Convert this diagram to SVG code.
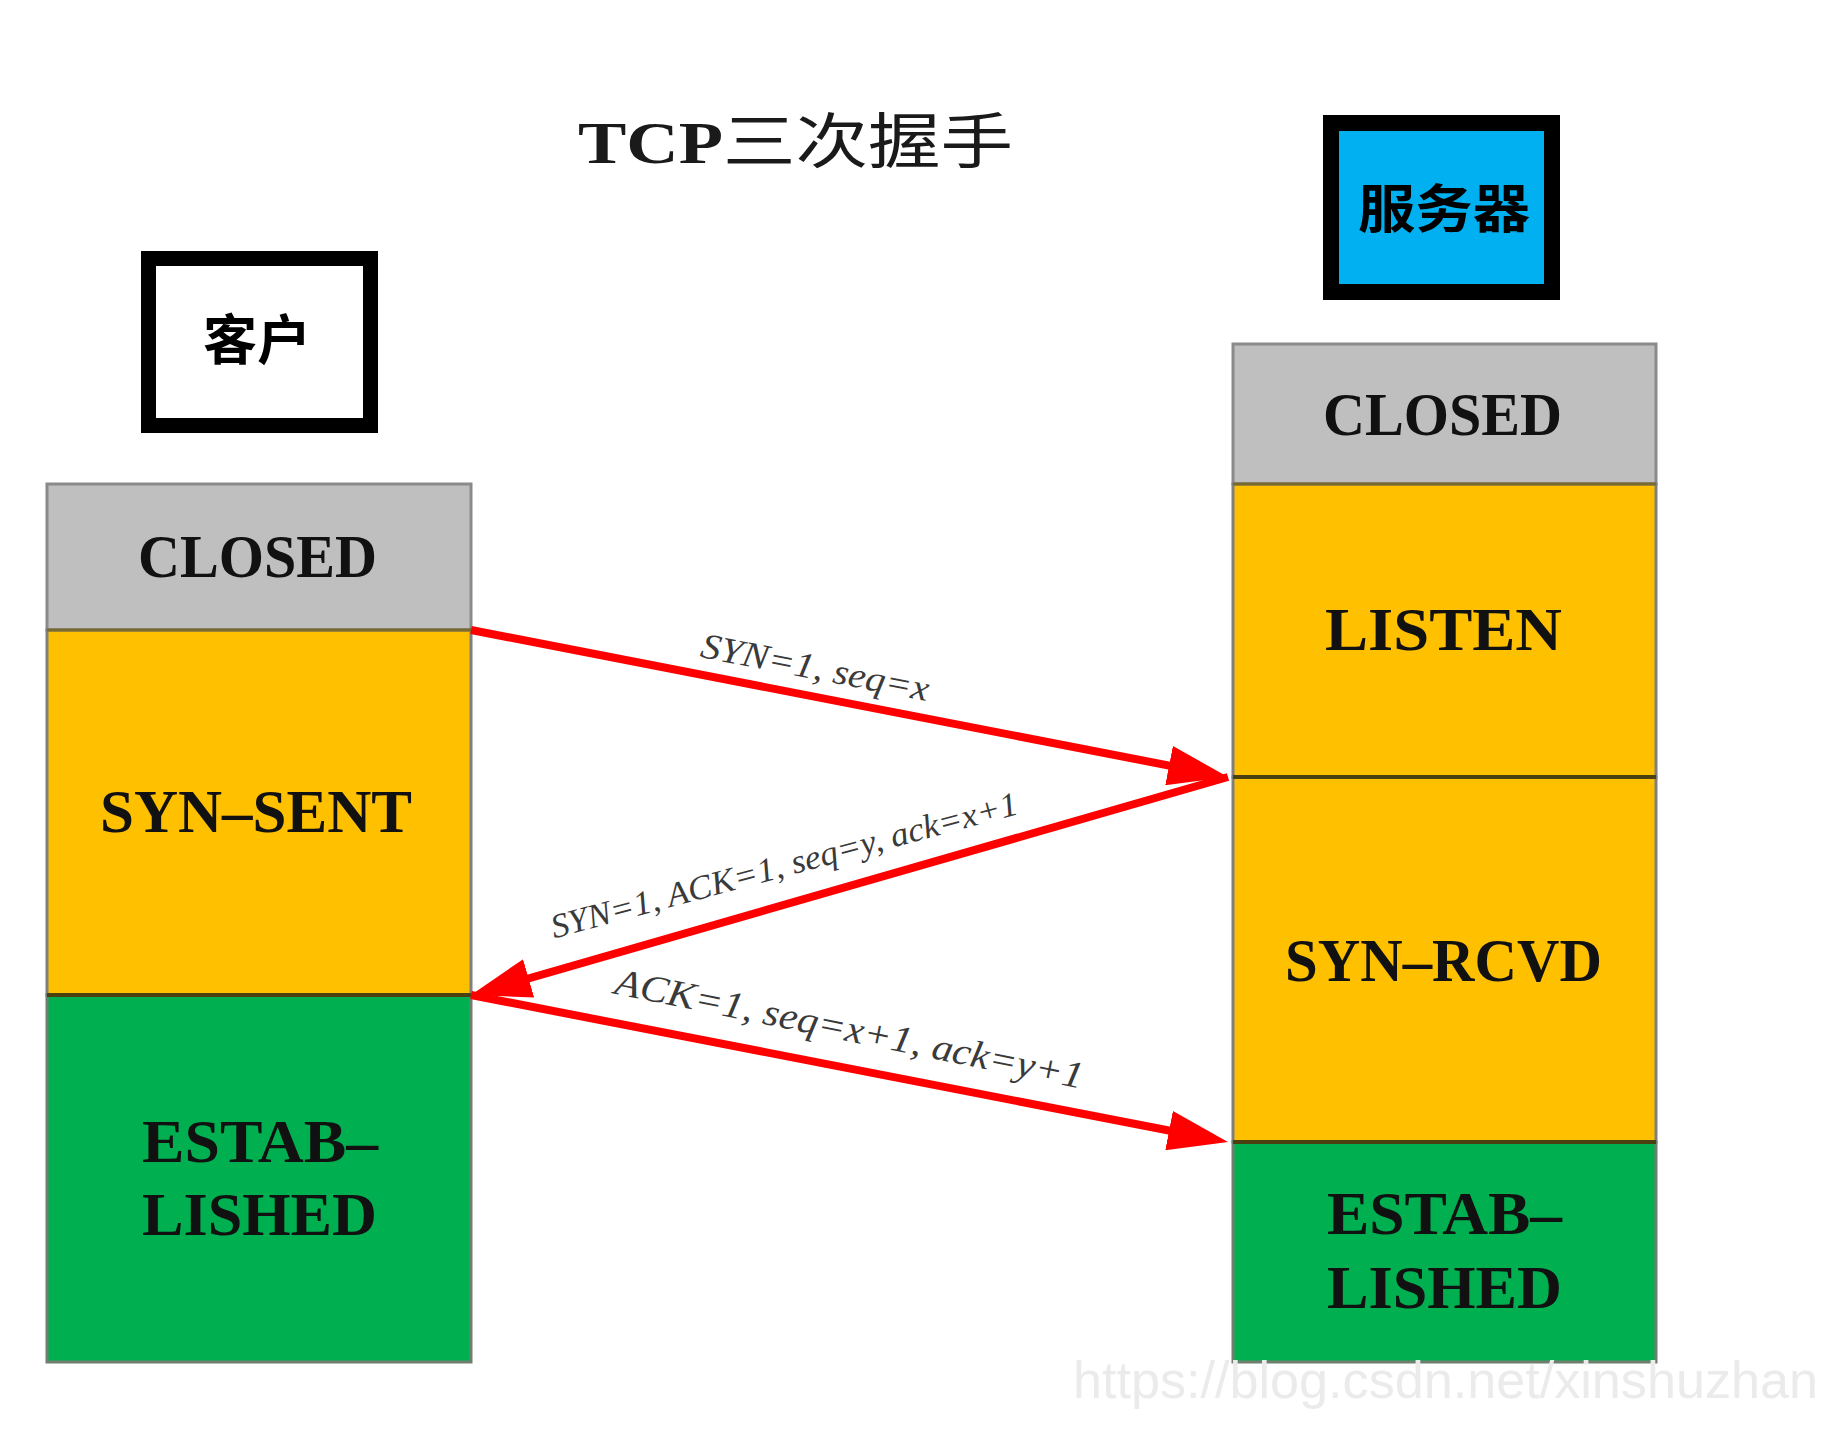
<svg xmlns="http://www.w3.org/2000/svg" width="1846" height="1440" viewBox="0 0 1846 1440">
<style>
.state{font-family:"Liberation Serif","Times New Roman",serif;font-weight:bold;font-size:62px;fill:#111;}
.gray{fill:#BFBFBF;stroke:#8a8a8a;stroke-width:3;}
.yellow{fill:#FFC000;stroke:#7f7f7f;stroke-width:3;}
.green{fill:#00B050;stroke:#6f7f6f;stroke-width:3;}
.sep{stroke:#4a4010;stroke-width:4;}
.sepl{stroke:#7a6a30;stroke-width:3;}
.arrow{stroke:#FF0000;stroke-width:8;fill:none;marker-end:url(#head);}
.lbl{font-family:"Liberation Serif","Times New Roman",serif;font-style:italic;fill:#3a3a3a;}
.cjk{font-family:"Noto Sans CJK SC","Noto Sans CJK TC",sans-serif;font-weight:bold;fill:#000;}
</style>
<defs>
<marker id="head" viewBox="0 0 60 40" markerWidth="60" markerHeight="40" refX="30" refY="20" orient="auto" markerUnits="userSpaceOnUse">
<path d="M0,0 L60,20 L0,40 z" fill="#FF0000"/>
</marker>
</defs>
<rect width="1846" height="1440" fill="#FFFFFF"/>

<g id="title">
<text x="578" y="163" font-size="60" textLength="435" lengthAdjust="spacingAndGlyphs" fill="#1a1a1a"><tspan font-family="Liberation Serif, serif" font-weight="bold">TCP</tspan><tspan font-family="Noto Sans CJK SC, sans-serif" font-weight="normal">三次握手</tspan></text>
</g>

<g id="client">
<rect x="148.5" y="258.5" width="222" height="167" fill="#FFFFFF" stroke="#000" stroke-width="15"/>
<text class="cjk" x="257" y="336" font-size="54" text-anchor="middle" dominant-baseline="central">客户</text>
</g>

<g id="server">
<rect x="1331" y="123" width="221" height="169" fill="#00B0F0" stroke="#000" stroke-width="16"/>
<text class="cjk" x="1358" y="205" font-size="52" textLength="172" lengthAdjust="spacingAndGlyphs" dominant-baseline="central">服务器</text>
</g>

<g id="client-closed">
<rect class="gray" x="47" y="484" width="424" height="146"/>
<text class="state" x="138" y="577" textLength="239" lengthAdjust="spacingAndGlyphs">CLOSED</text>
</g>
<g id="client-syn-sent">
<rect class="yellow" x="47" y="630" width="424" height="365"/>
<text class="state" x="100" y="832" textLength="312" lengthAdjust="spacingAndGlyphs">SYN–SENT</text>
</g>
<g id="client-established">
<rect class="green" x="47" y="995" width="424" height="367"/>
<text class="state" x="142" y="1162" textLength="236" lengthAdjust="spacingAndGlyphs">ESTAB–</text>
<text class="state" x="142" y="1235" textLength="235" lengthAdjust="spacingAndGlyphs">LISHED</text>
</g>
<line class="sepl" x1="47" y1="630" x2="471" y2="630"/>
<line class="sep" x1="47" y1="995" x2="471" y2="995"/>

<g id="server-closed">
<rect class="gray" x="1233" y="344" width="423" height="140"/>
<text class="state" x="1323" y="435" textLength="239" lengthAdjust="spacingAndGlyphs">CLOSED</text>
</g>
<g id="server-listen">
<rect class="yellow" x="1233" y="484" width="423" height="293"/>
<text class="state" x="1325" y="650" textLength="237" lengthAdjust="spacingAndGlyphs">LISTEN</text>
</g>
<g id="server-syn-rcvd">
<rect class="yellow" x="1233" y="777" width="423" height="365"/>
<text class="state" x="1285" y="981" textLength="317" lengthAdjust="spacingAndGlyphs">SYN–RCVD</text>
</g>
<g id="server-established">
<rect class="green" x="1233" y="1142" width="423" height="220"/>
<text class="state" x="1327" y="1234" textLength="235" lengthAdjust="spacingAndGlyphs">ESTAB–</text>
<text class="state" x="1327" y="1308" textLength="235" lengthAdjust="spacingAndGlyphs">LISHED</text>
</g>
<line class="sepl" x1="1233" y1="484" x2="1656" y2="484"/>
<line class="sep" x1="1233" y1="777" x2="1656" y2="777"/>
<line class="sep" x1="1233" y1="1142" x2="1656" y2="1142"/>

<g id="connectors">
<path class="arrow" d="M471,630 L1198.5,771.3"/>
<path class="arrow" d="M1228,777 L499.8,986.7"/>
<path class="arrow" d="M471,995 L1198.5,1136.3"/>
<text class="lbl" font-size="36" transform="translate(813,679) rotate(11)" text-anchor="middle" textLength="232" lengthAdjust="spacingAndGlyphs">SYN=1, seq=x</text>
<text class="lbl" font-size="34" transform="translate(787,876) rotate(-15)" text-anchor="middle" textLength="482" lengthAdjust="spacingAndGlyphs">SYN=1, ACK=1, seq=y, ack=x+1</text>
<text class="lbl" font-size="38" transform="translate(847,1041) rotate(11.5)" text-anchor="middle" textLength="477" lengthAdjust="spacingAndGlyphs">ACK=1, seq=x+1, ack=y+1</text>
</g>

<g id="watermark">
<text x="1073" y="1398" font-family="Liberation Sans, Arial, sans-serif" font-size="52" fill="#ebebeb" textLength="745" lengthAdjust="spacingAndGlyphs">https://blog.csdn.net/xinshuzhan</text>
</g>
</svg>
